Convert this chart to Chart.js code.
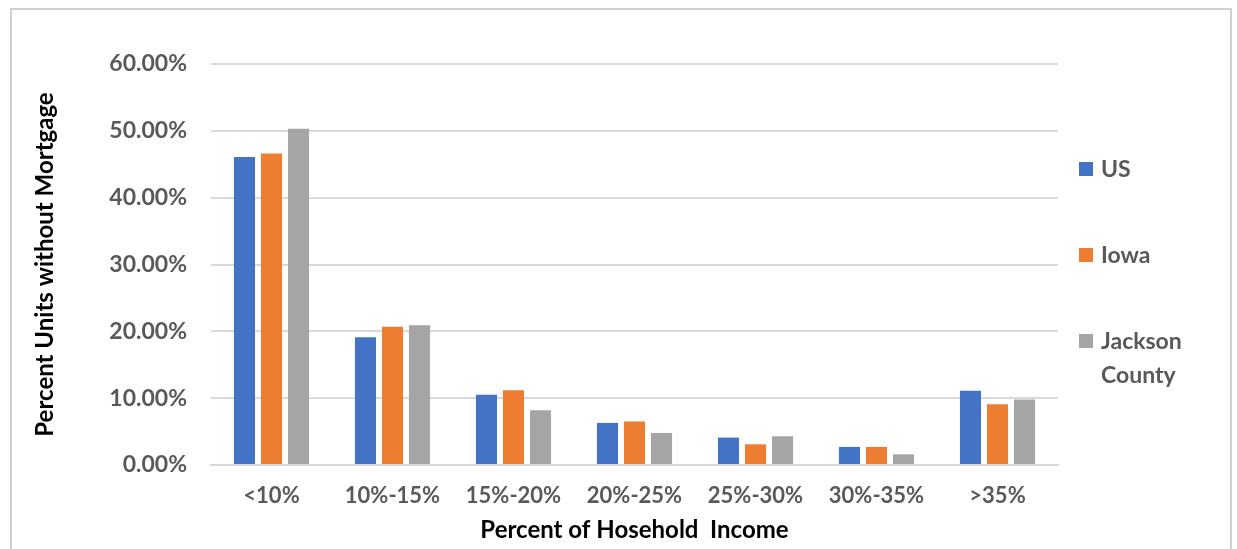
<!DOCTYPE html>
<html>
<head>
<meta charset="utf-8">
<script src="https://cdn.jsdelivr.net/npm/chart.js@4/dist/chart.umd.min.js"></script>
<style>
  html, body { margin: 0; padding: 0; background: #fff; overflow: hidden; }
  #wrap { position: relative; width: 1237px; height: 549px; }
  #frame { position: absolute; left: 10px; top: 8px; width: 1222px; height: 600px; border: 2px solid #d0d0d0; box-sizing: border-box; }
  #myChart { position: absolute; left: 0; top: 0; }
  #legend { position: absolute; left: 1079px; top: 151px; font-family: Lato, "Open Sans", sans-serif; font-weight: bold; font-size: 23px; color: #595959; }
  .item { position: absolute; left: 0; display: flex; align-items: flex-start; white-space: nowrap; line-height: 34px; }
  .box { width: 14px; height: 14px; margin: 11px 8px 0 0; flex: none; }
</style>
</head>
<body>
<div id="wrap">
  <div id="frame"></div>
  <canvas id="myChart" width="1237" height="549"></canvas>
  <div id="legend"></div>
</div>
<script>
// data (percent)
const categories = ['<10%', '10%-15%', '15%-20%', '20%-25%', '25%-30%', '30%-35%', '>35%'];
const usValues = [46.1, 19.1, 10.5, 6.3, 4.1, 2.7, 11.1];
const iowaValues = [46.6, 20.7, 11.2, 6.5, 3.1, 2.7, 9.1];
const jacksonValues = [50.3, 20.9, 8.2, 4.8, 4.3, 1.6, 9.8];
const seriesNames = ['US', 'Iowa', 'Jackson County'];
const yTicks = [0, 10, 20, 30, 40, 50, 60];

const colors = ['#4472C4', '#ED7D31', '#A5A5A5'];
const fontFamily = 'Lato, "Open Sans", sans-serif';

const ctx = document.getElementById('myChart').getContext('2d');
const myChart = new Chart(ctx, {
    type: 'bar',
    data: {
        labels: categories,
        datasets: [usValues, iowaValues, jacksonValues].map((vals, i) => ({
            label: seriesNames[i],
            data: vals,
            backgroundColor: colors[i],
            categoryPercentage: 0.67,
            barPercentage: 0.78,
        })),
    },
    options: {
        responsive: false,
        animation: false,
        layout: { padding: { top: 64, right: 179, left: 10, bottom: 0 } },
        plugins: {
            legend: { display: false },
            tooltip: { enabled: false },
        },
        scales: {
            x: {
                afterFit: axis => { axis.height = 84; },
                grid: { display: false, drawTicks: false },
                border: { display: true, color: '#d9d9d9', width: 2 },
                ticks: { color: '#595959', font: { family: fontFamily, size: 22, weight: 'bold' }, padding: 18 },
                title: {
                    display: true,
                    text: 'Percent of Hosehold  Income',
                    color: '#000',
                    font: { family: fontFamily, size: 24, weight: 'bold' },
                    padding: { top: 0, bottom: 4 },
                },
            },
            y: {
                min: 0,
                max: 60,
                afterFit: axis => { axis.width = 201; },
                afterBuildTicks: axis => { axis.ticks = yTicks.map(v => ({ value: v })); },
                grid: { color: '#d9d9d9', lineWidth: 2, drawTicks: false },
                border: { display: false },
                ticks: {
                    color: '#595959',
                    font: { family: fontFamily, size: 23, weight: 'bold' },
                    padding: 24,
                    callback: v => v.toFixed(2) + '%',
                },
                title: {
                    display: true,
                    text: 'Percent Units without Mortgage',
                    color: '#000',
                    font: { family: fontFamily, size: 24, weight: 'bold' },
                    padding: { top: 21, bottom: 0 },
                },
            },
        },
    },
});

// legend on the right, built from the series names
const legendTops = [0, 86, 172];
const legend = document.getElementById('legend');
seriesNames.forEach((name, i) => {
    const item = document.createElement('div');
    item.className = 'item';
    item.style.top = legendTops[i] + 'px';
    const box = document.createElement('span');
    box.className = 'box';
    box.style.background = colors[i];
    const txt = document.createElement('span');
    txt.innerHTML = name.replace(' ', '<br>');
    item.appendChild(box);
    item.appendChild(txt);
    legend.appendChild(item);
});
</script>
</body>
</html>
